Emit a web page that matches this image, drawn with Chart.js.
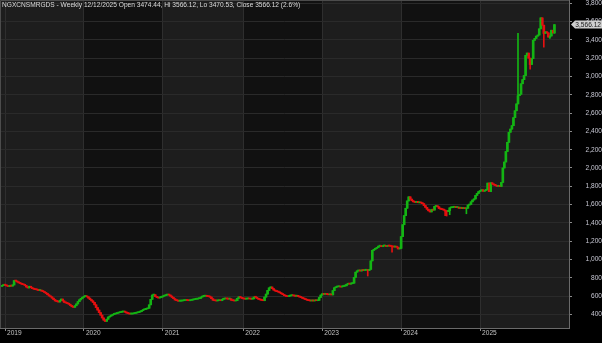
<!DOCTYPE html>
<html>
<head>
<meta charset="utf-8">
<script src="https://cdn.jsdelivr.net/npm/chart.js@4.4.1/dist/chart.umd.min.js"></script>
<style>
  html, body { margin: 0; padding: 0; background: #000; }
  #wrap { width: 602px; height: 343px; }
</style>
</head>
<body>
<div id="wrap"><canvas id="chart"></canvas></div>
<script>
// Header values for the last weekly bar
const symbol = 'NGXCNSMRGDS';
const lastDate = '12/12/2025';
const lastOpen = 3474.44;
const lastHigh = 3566.12;
const lastLow = 3470.53;
const lastClose = 3566.12;
const lastChange = '2.6%';

// x axis: week index 0 = 21 Dec 2018, one bar per week
const yearStarts = [2, 54, 106, 159, 211, 263, 315];
const yearLabels = ['2019', '2020', '2021', '2022', '2023', '2024', '2025'];
const yTickValues = [400, 600, 800, 1000, 1200, 1400, 1600, 1800, 2000, 2200, 2400, 2600, 2800, 3000, 3200, 3400, 3600, 3800];

// weekly closes
const closes = [
    715, 725,
    // 2019
    720, 712, 705, 715, 710, 722, 770, 765, 755, 745, 738, 730, 725, 718,
    700, 690, 708, 692, 682, 676, 672, 668, 662, 664, 656, 650, 640, 630,
    615, 602, 592, 578, 562, 548, 542, 536, 550, 568, 548, 532, 526, 520,
    512, 498, 484, 478, 495, 515, 540, 560, 575, 588,
    // 2020
    597, 602, 592, 578, 562, 548, 532, 505, 475, 448, 420, 392, 362, 338,
    325, 348, 372, 382, 392, 400, 406, 410, 416, 420, 425, 428, 432, 426,
    416, 410, 405, 405, 408, 412, 416, 420, 426, 432, 442, 452, 456, 462,
    468, 505, 565, 612, 615, 596, 586, 580, 586, 592,
    // 2021
    600, 606, 612, 616, 612, 600, 586, 572, 558, 552, 546, 546, 548, 550,
    553, 556, 553, 550, 555, 558, 562, 566, 568, 572, 576, 590, 598, 600,
    601, 598, 595, 590, 572, 556, 550, 548, 551, 553, 550, 566, 570, 573,
    570, 568, 571, 556, 550, 548, 551, 576, 592, 586, 576,
    // 2022
    571, 568, 571, 573, 570, 568, 571, 590, 588, 576, 566, 560, 555, 550,
    590, 622, 662, 690, 700, 682, 666, 656, 650, 645, 636, 626, 616, 606,
    599, 595, 601, 606, 608, 604, 600, 603, 598, 591, 585, 576, 570, 562,
    556, 551, 548, 551, 548, 553, 550, 554, 586, 612,
    // 2023
    626, 620, 623, 619, 615, 618, 614, 660, 692, 700, 703, 706, 700, 705,
    710, 713, 730, 736, 732, 738, 742, 805, 862, 876, 882, 875, 886, 880,
    883, 886, 880, 892, 985, 1100, 1112, 1122, 1132, 1146, 1152, 1140, 1149, 1152,
    1144, 1151, 1148, 1145, 1140, 1137, 1143, 1135, 1116, 1122,
    // 2024
    1250, 1380, 1480, 1560, 1640, 1685, 1660, 1642, 1630, 1625, 1636, 1620, 1626, 1618,
    1610, 1590, 1570, 1550, 1532, 1520, 1546, 1540, 1580, 1586, 1575, 1556, 1550, 1546,
    1540, 1530, 1524, 1535, 1565, 1568, 1571, 1573, 1568, 1571, 1561, 1563, 1558, 1561,
    1555, 1560, 1595, 1602, 1630, 1650, 1662, 1700, 1722, 1742,
    // 2025
    1750, 1762, 1746, 1755, 1762, 1835, 1742, 1838, 1825, 1815, 1810, 1800, 1806, 1798,
    1842, 2000, 2065, 2180, 2280, 2390, 2425, 2462, 2550, 2625, 2700, 2790, 2805, 2920,
    2965, 3010, 3230, 3255, 3200, 3130, 3195, 3395, 3415, 3440, 3452, 3520, 3640, 3560,
    3470, 3488, 3476, 3430, 3442, 3505, 3475.8, 3566.12
];

// weeks with a visible wick beyond the body
const wickWeeks = [241, 257, 292, 293, 295, 306, 340, 348, 357, 361, 364];
const wickHighs = [null, null, null, null, null, null, 3470, null, null, null, 3566.12];
const wickLows  = [820, 1080, 1480, 1475, 1490, 1500, null, 3080, 3320, 3415, 3470.53];

const upColor = '#14b414';
const downColor = '#e61010';

// build OHLC from the closes (weekly open = previous close)
const bars = closes.map((c, i) => {
    let o = i === 0 ? c - 8 : closes[i - 1];
    if (i === closes.length - 1) o = lastOpen;
    let h = Math.max(o, c);
    let l = Math.min(o, c);
    const k = wickWeeks.indexOf(i);
    if (k >= 0) {
        if (wickHighs[k] !== null) h = Math.max(h, wickHighs[k]);
        if (wickLows[k] !== null) l = Math.min(l, wickLows[k]);
    }
    return { o, h, l, c };
});
const barColors = bars.map(b => b.c >= b.o ? upColor : downColor);

const axisFont = { family: "'Liberation Sans', Arial, sans-serif", size: 6.6 };

// alternating year bands behind the plot
const yearBands = {
    id: 'yearBands',
    beforeDraw(chart) {
        const { ctx, chartArea: a, scales: { x } } = chart;
        ctx.save();
        ctx.fillStyle = '#000';
        ctx.fillRect(0, 0, chart.width, chart.height);
        const edges = [a.left, ...yearStarts.slice(1).map(v => x.getPixelForValue(v)), a.right];
        for (let i = 0; i < edges.length - 1; i++) {
            ctx.fillStyle = i % 2 === 0 ? '#1d1d1d' : '#111111';
            ctx.fillRect(edges[i], a.top, edges[i + 1] - edges[i], a.bottom - a.top);
        }
        ctx.restore();
    }
};

// frame, header text and the last price tag
const overlay = {
    id: 'overlay',
    afterDraw(chart) {
        const { ctx, chartArea: a, scales: { y } } = chart;
        ctx.save();
        ctx.strokeStyle = '#4c4c4c';
        ctx.lineWidth = 1;
        ctx.beginPath();
        ctx.moveTo(a.left + 0.5, a.bottom);
        ctx.lineTo(a.left + 0.5, a.top + 0.5);
        ctx.lineTo(a.right, a.top + 0.5);
        ctx.stroke();

        ctx.font = "6.6px 'Liberation Sans', Arial, sans-serif";
        ctx.fillStyle = '#dcdcdc';
        ctx.textBaseline = 'middle';
        ctx.textAlign = 'left';
        const head = symbol + ' - Weekly ' + lastDate + ' Open ' + lastOpen.toFixed(2) + ', Hi ' + lastHigh.toFixed(2) +
            ', Lo ' + lastLow.toFixed(2) + ', Close ' + lastClose.toFixed(2) + ' (' + lastChange + ')';
        ctx.fillText(head, a.left + 2, a.top + 5);

        const py = y.getPixelForValue(lastClose);
        const x0 = a.right + 2;
        ctx.fillStyle = '#cfcfcf';
        ctx.beginPath();
        ctx.moveTo(x0, py);
        ctx.lineTo(x0 + 4, py - 4);
        ctx.lineTo(chart.width, py - 4);
        ctx.lineTo(chart.width, py + 4);
        ctx.lineTo(x0 + 4, py + 4);
        ctx.closePath();
        ctx.fill();
        ctx.fillStyle = '#1a1a1a';
        ctx.textAlign = 'right';
        ctx.fillText(lastClose.toLocaleString('en-US', { minimumFractionDigits: 2 }), chart.width - 1, py + 0.5);
        ctx.restore();
    }
};

new Chart(document.getElementById('chart'), {
    type: 'bar',
    data: {
        datasets: [
            {
                data: bars.map((b, i) => ({ x: i, y: [b.l, b.h] })),
                backgroundColor: barColors,
                barThickness: 1,
                grouped: false,
                borderWidth: 0
            },
            {
                data: bars.map((b, i) => ({ x: i, y: [b.o, b.c] })),
                backgroundColor: barColors,
                barThickness: 2,
                minBarLength: 1,
                grouped: false,
                borderWidth: 0
            }
        ]
    },
    options: {
        responsive: true,
        maintainAspectRatio: false,
        animation: false,
        devicePixelRatio: 1,
        layout: { padding: 0 },
        plugins: { legend: { display: false }, tooltip: { enabled: false } },
        scales: {
            x: {
                type: 'linear',
                min: -1.3,
                max: 373.6,
                offset: false,
                afterBuildTicks: s => { s.ticks = yearStarts.map(v => ({ value: v })); },
                afterFit: s => { s.height = 15; s.paddingLeft = 0; s.paddingRight = 0; },
                ticks: {
                    callback: v => yearLabels[yearStarts.indexOf(v)],
                    align: 'start',
                    labelOffset: 2,
                    padding: -2,
                    maxRotation: 0,
                    autoSkip: false,
                    color: '#c4c4c4',
                    font: axisFont
                },
                grid: { offset: false, color: '#2e2e2e', tickColor: '#8a8a8a', tickLength: 3 },
                border: { color: '#6a6a6a' }
            },
            y: {
                position: 'right',
                min: 252,
                max: 3835,
                afterBuildTicks: s => { s.ticks = yTickValues.map(v => ({ value: v })); },
                afterFit: s => { s.width = 33; s.paddingTop = 0; s.paddingBottom = 0; },
                ticks: {
                    callback: v => v.toLocaleString('en-US'),
                    crossAlign: 'far',
                    padding: 9,
                    color: '#c8c8d4',
                    font: axisFont
                },
                grid: { color: '#2a2a2a', tickColor: '#8a8a8a', tickLength: 3 },
                border: { color: '#6a6a6a' }
            }
        }
    },
    plugins: [yearBands, overlay]
});
</script>
</body>
</html>
